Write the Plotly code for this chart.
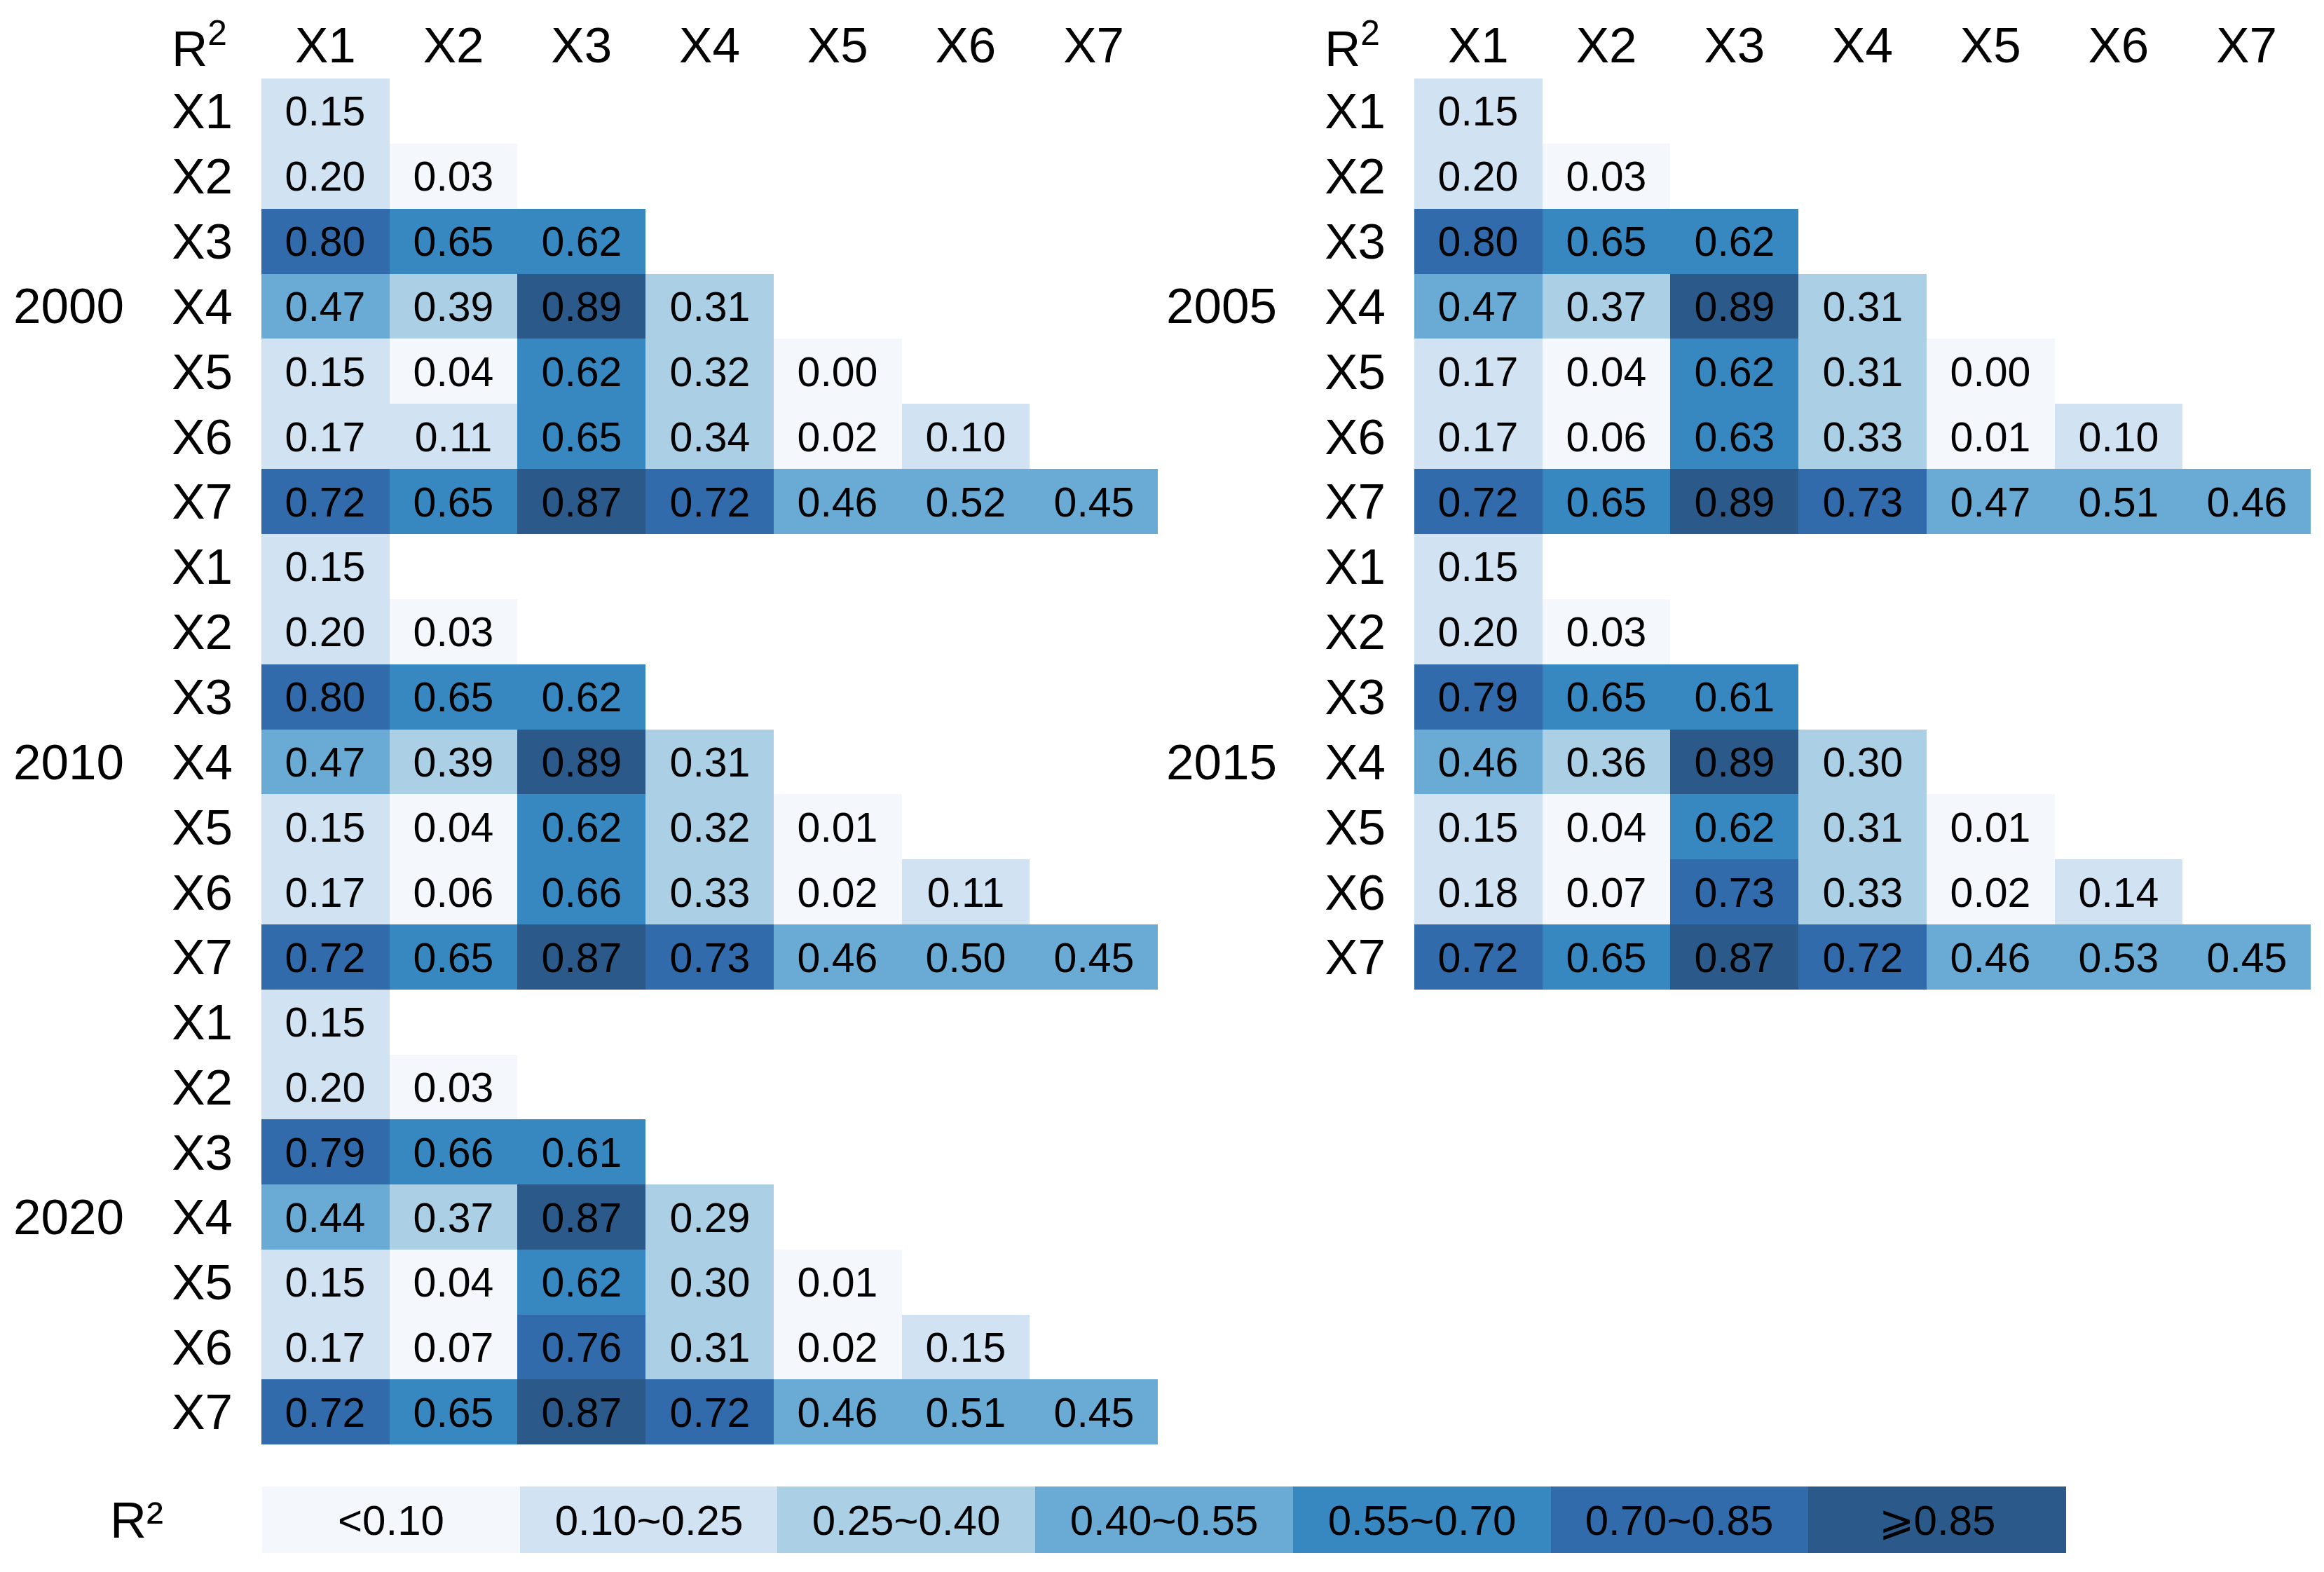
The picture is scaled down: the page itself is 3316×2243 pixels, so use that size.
import plotly.graph_objects as go

# ---------------- data ----------------
variables = ["X1", "X2", "X3", "X4", "X5", "X6", "X7"]
years = ["2000", "2005", "2010", "2015", "2020"]

r2_2000 = [
    [0.15],
    [0.20, 0.03],
    [0.80, 0.65, 0.62],
    [0.47, 0.39, 0.89, 0.31],
    [0.15, 0.04, 0.62, 0.32, 0.00],
    [0.17, 0.11, 0.65, 0.34, 0.02, 0.10],
    [0.72, 0.65, 0.87, 0.72, 0.46, 0.52, 0.45],
]
r2_2005 = [
    [0.15],
    [0.20, 0.03],
    [0.80, 0.65, 0.62],
    [0.47, 0.37, 0.89, 0.31],
    [0.17, 0.04, 0.62, 0.31, 0.00],
    [0.17, 0.06, 0.63, 0.33, 0.01, 0.10],
    [0.72, 0.65, 0.89, 0.73, 0.47, 0.51, 0.46],
]
r2_2010 = [
    [0.15],
    [0.20, 0.03],
    [0.80, 0.65, 0.62],
    [0.47, 0.39, 0.89, 0.31],
    [0.15, 0.04, 0.62, 0.32, 0.01],
    [0.17, 0.06, 0.66, 0.33, 0.02, 0.11],
    [0.72, 0.65, 0.87, 0.73, 0.46, 0.50, 0.45],
]
r2_2015 = [
    [0.15],
    [0.20, 0.03],
    [0.79, 0.65, 0.61],
    [0.46, 0.36, 0.89, 0.30],
    [0.15, 0.04, 0.62, 0.31, 0.01],
    [0.18, 0.07, 0.73, 0.33, 0.02, 0.14],
    [0.72, 0.65, 0.87, 0.72, 0.46, 0.53, 0.45],
]
r2_2020 = [
    [0.15],
    [0.20, 0.03],
    [0.79, 0.66, 0.61],
    [0.44, 0.37, 0.87, 0.29],
    [0.15, 0.04, 0.62, 0.30, 0.01],
    [0.17, 0.07, 0.76, 0.31, 0.02, 0.15],
    [0.72, 0.65, 0.87, 0.72, 0.46, 0.51, 0.45],
]
bin_edges = [0.10, 0.25, 0.40, 0.55, 0.70, 0.85]
legend_labels = ["<0.10", "0.10~0.25", "0.25~0.40", "0.40~0.55",
                 "0.55~0.70", "0.70~0.85", "⩾0.85"]
colors = ["#f4f8fc", "#d1e3f3", "#abcfe4", "#69abd5",
          "#3788c0", "#316bab", "#2b5a8a"]

# ---------------- layout geometry (pixels) ----------------
W, H = 3316, 2243
OFF = 8  # page body margin
FONT = "Arial, Liberation Sans, sans-serif"
LABEL_SIZE = 71
VALUE_SIZE = 59
LEGEND_SIZE = 60


def fx(px):
    return (px - OFF) / W


def fy(py):
    return 1 - (py - OFF) / H


col_x = {"L": (373, 1652), "R": (2018, 3297)}
row_y = [(112, 762), (762, 1412), (1412, 2061)]
panel_pos = {
    "2000": ("L", 0, True),
    "2005": ("R", 0, True),
    "2010": ("L", 1, False),
    "2015": ("R", 1, False),
    "2020": ("L", 2, False),
}
year_data = {"2000": r2_2000, "2005": r2_2005, "2010": r2_2010,
             "2015": r2_2015, "2020": r2_2020}


def bin_index(v):
    i = 0
    for e in bin_edges:
        if v >= e - 1e-9:
            i += 1
    return i


n_cls = len(colors)
colorscale = []
for i, c in enumerate(colors):
    colorscale.append([i / n_cls, c])
    colorscale.append([(i + 1) / n_cls, c])

fig = go.Figure()
layout_axes = {}
annotations = []

for k, yr in enumerate(years):
    side, ri, header = panel_pos[yr]
    x0, x1 = col_x[side]
    y0, y1 = row_y[ri]
    data = year_data[yr]
    z, txt = [], []
    for r in range(7):
        zr, tr = [], []
        for c in range(7):
            if c < len(data[r]):
                zr.append(bin_index(data[r][c]))
                tr.append(f"{data[r][c]:.2f}")
            else:
                zr.append(None)
                tr.append(" ")
        z.append(zr)
        txt.append(tr)
    n = k + 1
    xa, ya = f"x{n}", f"y{n}"
    fig.add_trace(go.Heatmap(
        z=z, x=variables, y=variables, text=txt, texttemplate="%{text}",
        textfont=dict(size=VALUE_SIZE, color="black", family=FONT),
        colorscale=colorscale, zmin=-0.5, zmax=n_cls - 0.5, showscale=False,
        xgap=0, ygap=0, hoverinfo="skip", xaxis=xa, yaxis=ya))
    layout_axes[f"xaxis{n}"] = dict(
        domain=[fx(x0), fx(x1)], anchor=ya, side="top",
        showticklabels=header, ticks="", showgrid=False, zeroline=False,
        showline=False, tickfont=dict(size=LABEL_SIZE, color="black", family=FONT),
        ticklabelstandoff=8, fixedrange=True)
    layout_axes[f"yaxis{n}"] = dict(
        domain=[fy(y1), fy(y0)], anchor=xa, autorange="reversed",
        ticks="", showgrid=False, zeroline=False, showline=False,
        tickfont=dict(size=LABEL_SIZE, color="black", family=FONT),
        ticklabelstandoff=40, fixedrange=True)
    # year label
    annotations.append(dict(
        text=yr, x=fx(x0 - 275), y=fy((y0 + y1) / 2),
        xref="paper", yref="paper", xanchor="center", yanchor="middle",
        showarrow=False, font=dict(size=LABEL_SIZE, color="black", family=FONT)))
    if header:
        annotations.append(dict(
            text="R<sup>2</sup>", x=fx(x0 - 89), y=fy(64),
            xref="paper", yref="paper", xanchor="center", yanchor="middle",
            showarrow=False, font=dict(size=LABEL_SIZE, color="black", family=FONT)))

# ---------------- legend strip ----------------
n = len(years) + 1
fig.add_trace(go.Heatmap(
    z=[list(range(n_cls))], x=legend_labels, y=["R²"],
    text=[legend_labels], texttemplate="%{text}",
    textfont=dict(size=LEGEND_SIZE, color="black", family=FONT),
    colorscale=colorscale, zmin=-0.5, zmax=n_cls - 0.5, showscale=False,
    xgap=0, ygap=0, hoverinfo="skip", xaxis=f"x{n}", yaxis=f"y{n}"))
layout_axes[f"xaxis{n}"] = dict(
    domain=[fx(374), fx(2948)], anchor=f"y{n}", showticklabels=False,
    ticks="", showgrid=False, zeroline=False, showline=False, fixedrange=True)
layout_axes[f"yaxis{n}"] = dict(
    domain=[fy(2216), fy(2121)], anchor=f"x{n}",
    ticks="", showgrid=False, zeroline=False, showline=False,
    tickfont=dict(size=72, color="black", family=FONT),
    ticklabelstandoff=140, fixedrange=True)

fig.update_layout(
    width=W, height=H, margin=dict(l=0, r=0, t=0, b=0),
    paper_bgcolor="white", plot_bgcolor="white",
    font=dict(family=FONT, color="black"),
    annotations=annotations, **layout_axes)

fig.write_html("out.html")
